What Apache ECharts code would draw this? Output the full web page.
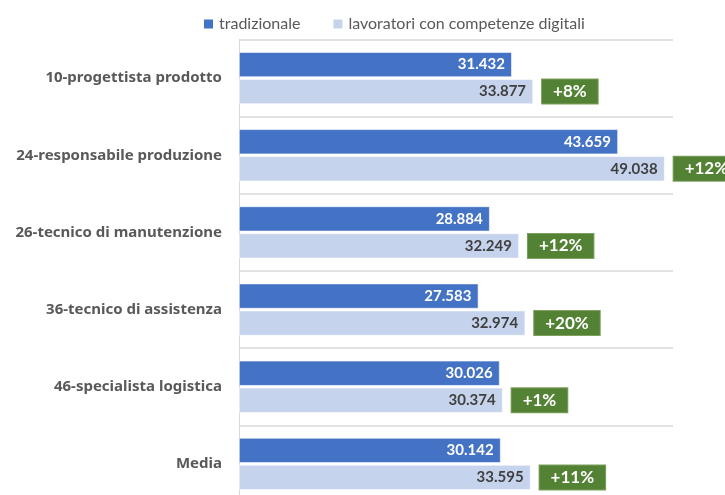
<!DOCTYPE html>
<html>
<head>
<meta charset="utf-8">
<script src="https://cdn.jsdelivr.net/npm/echarts@6/dist/echarts.min.js"></script>
<style>
  html, body { margin: 0; padding: 0; background: #fff; }
  #chart { width: 725px; height: 495px; }
</style>
</head>
<body>
<div id="chart"></div>
<script>
// categorie (dall'alto verso il basso)
const categories = [
  '10-progettista prodotto',
  '24-responsabile produzione',
  '26-tecnico di manutenzione',
  '36-tecnico di assistenza',
  '46-specialista logistica',
  'Media'
]
const tradizionale = [31.432, 43.659, 28.884, 27.583, 30.026, 30.142]
const digitali     = [33.877, 49.038, 32.249, 32.974, 30.374, 33.595]
const premio       = ['+8%', '+12%', '+12%', '+20%', '+1%', '+11%']

const FONT = 'Lato'
const chart = echarts.init(document.getElementById('chart'))

const fmt = v => v.toFixed(3)

chart.setOption({
  animation: false,
  textStyle: { fontFamily: FONT },
  legend: {
    data: ['tradizionale', 'lavoratori con competenze digitali'],
    left: 197, top: 11,
    itemWidth: 11, itemHeight: 11, itemGap: 31,
    icon: 'rect',
    textStyle: { color: '#595959', fontSize: 16, fontFamily: FONT }
  },
  // la griglia prosegue oltre il bordo inferiore, come nell'originale
  grid: { left: 239, right: 52, top: 39.5, height: 463, outerBoundsMode: 'none' },
  xAxis: { type: 'value', min: 0, max: 50, show: false },
  yAxis: {
    type: 'category', data: categories, inverse: true,
    axisLine: { show: true, lineStyle: { color: '#D9D9D9', width: 1 } },
    axisTick: { show: false },
    splitLine: { show: true, lineStyle: { color: '#D9D9D9', width: 1.5 } },
    axisLabel: { color: '#595959', fontSize: 15, fontWeight: 'bold', margin: 17, fontFamily: '"Noto Sans"' }
  },
  series: [
    {
      name: 'tradizionale', type: 'bar', data: tradizionale,
      barWidth: 25, barGap: '8%',
      itemStyle: { color: '#4472C4', borderColor: '#fff', borderWidth: 0.6 },
      label: { show: true, position: 'insideRight', distance: 7, color: '#fff',
        fontWeight: 'bold', fontSize: 15, fontFamily: FONT, formatter: p => fmt(p.value) }
    },
    {
      name: 'lavoratori con competenze digitali', type: 'bar', data: digitali,
      stack: 'dig', barWidth: 25,
      itemStyle: { color: '#C5D3EC', borderColor: '#fff', borderWidth: 0.6 },
      label: { show: true, position: 'insideRight', distance: 7, color: '#404040',
        fontWeight: 'bold', fontSize: 15, fontFamily: FONT, formatter: p => fmt(p.value) }
    },
    {
      // etichetta verde: barra a lunghezza zero impilata in coda alla barra chiara
      name: 'premio', type: 'bar', stack: 'dig', barWidth: 25,
      data: premio.map(() => 0),
      itemStyle: { color: 'transparent' },
      label: { show: true, position: 'right', distance: 9,
        formatter: p => premio[p.dataIndex],
        color: '#fff', fontWeight: 'bold', fontSize: 17, fontFamily: FONT,
        backgroundColor: '#548235', borderColor: '#7FA05F', borderWidth: 1,
        padding: [4, 11, 3, 11] }
    }
  ]
})
</script>
</body>
</html>
